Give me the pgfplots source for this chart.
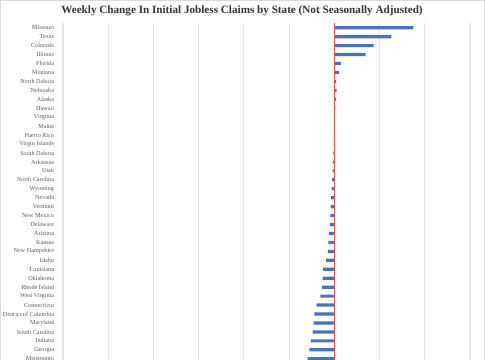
\documentclass[border=0pt]{standalone}
\usepackage{pgfplots}
\pgfplotsset{compat=1.18}
\usepackage{fontspec}
\setmainfont{Liberation Serif}
\definecolor{barblue}{HTML}{4472C4}
\definecolor{zerored}{HTML}{FF4545}
\definecolor{gridgray}{HTML}{E4E4E4}
\definecolor{labgray}{HTML}{595959}
\definecolor{titlegray}{HTML}{333333}
\begin{document}
\begin{tikzpicture}
\useasboundingbox (0,0) rectangle (485bp,360bp);
\clip (0,0) rectangle (485bp,360bp);
\fill[white] (0,0) rectangle (485bp,360bp);
\draw[gray!30, line width=0.8bp] (0.4bp,0) -- (0.4bp,359.6bp) -- (484.6bp,359.6bp) -- (484.6bp,0);
\node[font=\bfseries\fontsize{11.2}{13}\selectfont, text=titlegray] at (242bp,349bp) {Weekly Change In Initial Jobless Claims by State (Not Seasonally Adjusted)};
\begin{axis}[
  at={(63bp,337bp)}, anchor=north west,
  scale only axis, width=407bp, height=362.6bp,
  xmin=-6, xmax=3, ymin=-40, ymax=0.53,
  xbar, bar width=3.2bp,
  xtick={-6,-5,-4,-3,-2,-1,0,1,2,3}, xticklabels={},
  xmajorgrids, grid style={line width=1.2bp, color=gridgray},
  ytick={0,-1,-2,-3,-4,-5,-6,-7,-8,-9,-10,-11,-12,-13,-14,-15,-16,-17,-18,-19,-20,-21,-22,-23,-24,-25,-26,-27,-28,-29,-30,-31,-32,-33,-34,-35,-36,-37},
  yticklabels={Missouri,Texas,Colorado,Illinois,Florida,Montana,North Dakota,Nebraska,Alaska,Hawaii,Virginia,Maine,Puerto Rico,Virgin Islands,South Dakota,Arkansas,Utah,North Carolina,Wyoming,Nevada,Vermont,New Mexico,Delaware,Arizona,Kansas,New Hampshire,Idaho,Louisiana,Oklahoma,Rhode Island,West Virginia,Connecticut,District of Columbia,Maryland,South Carolina,Indiana,Georgia,Mississippi},
  xtick style={draw=none}, ytick style={draw=none},
  axis line style={draw=none},
  yticklabel style={font=\fontsize{6.2}{7}\selectfont, text=labgray, inner sep=0pt, anchor=east, xshift=-4.5bp},
]
\addplot[fill=barblue, draw=none] coordinates {
(1.75,0) (1.26,-1) (0.87,-2) (0.69,-3) (0.15,-4) (0.10,-5) (0.04,-6) (0.05,-7) (0.04,-8) (0.015,-9) (0.005,-10) (0.003,-11)
(-0.005,-12) (-0.01,-13) (-0.02,-14) (-0.03,-15) (-0.04,-16) (-0.05,-17) (-0.06,-18) (-0.07,-19) (-0.08,-20) (-0.09,-21) (-0.10,-22) (-0.12,-23) (-0.13,-24) (-0.14,-25) (-0.18,-26) (-0.25,-27) (-0.26,-28) (-0.27,-29) (-0.31,-30) (-0.39,-31) (-0.44,-32) (-0.46,-33) (-0.48,-34) (-0.52,-35) (-0.55,-36) (-0.59,-37)
};
\draw[zerored, line width=1.2bp] (axis cs:0,0.53) -- (axis cs:0,-40);
\end{axis}
\end{tikzpicture}
\end{document}
